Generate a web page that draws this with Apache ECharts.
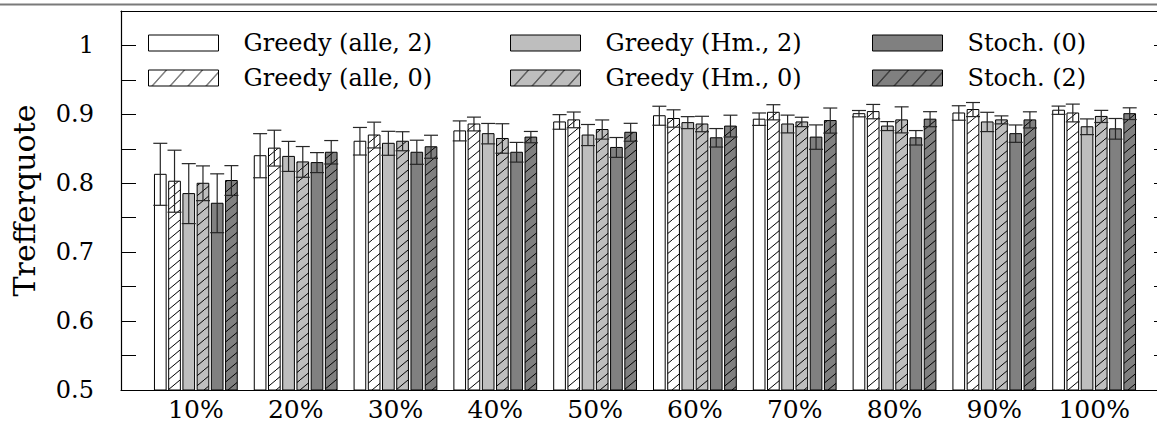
<!DOCTYPE html>
<html>
<head>
<meta charset="utf-8">
<script src="https://cdn.jsdelivr.net/npm/echarts@6/dist/echarts.min.js"></script>
<style>
html,body{margin:0;padding:0;background:#fff;}
#chart{width:1157px;height:426px;}
</style>
</head>
<body>
<div id="chart"></div>
<script>
// ---------- data ----------
const categories = ['10%', '20%', '30%', '40%', '50%', '60%', '70%', '80%', '90%', '100%'];
const seriesNames = ['Greedy (alle, 2)', 'Greedy (alle, 0)', 'Greedy (Hm., 2)', 'Greedy (Hm., 0)', 'Stoch. (0)', 'Stoch. (2)'];

const alle2    = [0.813, 0.840, 0.861, 0.876, 0.889, 0.898, 0.893, 0.901, 0.902, 0.906];
const alle2Err = [0.045, 0.032, 0.020, 0.0145, 0.0106, 0.0138, 0.009, 0.0046, 0.0105, 0.006];

const alle0    = [0.803, 0.851, 0.870, 0.886, 0.892, 0.894, 0.903, 0.904, 0.907, 0.902];
const alle0Err = [0.045, 0.026, 0.0187, 0.010, 0.0114, 0.0126, 0.011, 0.0104, 0.0102, 0.0129];

const hm2      = [0.785, 0.839, 0.858, 0.872, 0.870, 0.888, 0.886, 0.883, 0.889, 0.882];
const hm2Err   = [0.0435, 0.0218, 0.0174, 0.0148, 0.0153, 0.0087, 0.0129, 0.0065, 0.014, 0.0114];

const hm0      = [0.800, 0.831, 0.861, 0.865, 0.878, 0.886, 0.889, 0.892, 0.892, 0.897];
const hm0Err   = [0.0252, 0.0223, 0.0138, 0.0214, 0.0139, 0.0112, 0.0068, 0.0189, 0.0058, 0.0088];

const stoch0    = [0.771, 0.830, 0.845, 0.845, 0.852, 0.866, 0.867, 0.866, 0.872, 0.879];
const stoch0Err = [0.0427, 0.0145, 0.0175, 0.0143, 0.0144, 0.0134, 0.0177, 0.0105, 0.0126, 0.015];

const stoch2    = [0.804, 0.845, 0.853, 0.867, 0.874, 0.883, 0.891, 0.893, 0.892, 0.901];
const stoch2Err = [0.0216, 0.017, 0.0167, 0.0082, 0.013, 0.0158, 0.0182, 0.0109, 0.0117, 0.0085];

const yTickLabels = ['0.5', '0.6', '0.7', '0.8', '0.9', '1'];

// ---------- styling / layout ----------
const FONT = 'DejaVu Serif';
const LIGHT = '#bebebe';
const DARK = '#808080';

function hatch(bg, w, h) {
  const c = document.createElement('canvas');
  c.width = w; c.height = h;
  const g = c.getContext('2d');
  g.fillStyle = bg; g.fillRect(0, 0, w, h);
  g.strokeStyle = '#000'; g.lineWidth = 1;
  g.beginPath();
  g.moveTo(0, h); g.lineTo(w, 0);
  g.moveTo(-w, h); g.lineTo(0, 0);
  g.moveTo(w, h); g.lineTo(2 * w, 0);
  g.stroke();
  return { image: c, repeat: 'repeat' };
}

const fills = [
  '#ffffff',
  hatch('#ffffff', 12, 10),
  LIGHT,
  hatch(LIGHT, 12, 10),
  DARK,
  hatch(DARK, 12, 10)
];
const legendFills = [
  '#ffffff',
  hatch('#ffffff', 18, 20),
  LIGHT,
  hatch(LIGHT, 18, 20),
  DARK,
  hatch(DARK, 18, 20)
];

const values = [alle2, alle0, hm2, hm0, stoch0, stoch2];
const errors = [alle2Err, alle0Err, hm2Err, hm0Err, stoch0Err, stoch2Err];

const BAR_PITCH = 0.1425;   // in category units
const BAR_WIDTH = 0.117;
const CAP_HALF = 7;         // px
const Y_MIN = 0.5, Y_MAX = 1.05;

function makeRender(si) {
  const offset = (si - 2.5) * BAR_PITCH;
  return function (params, api) {
    const xi = api.value(0) + offset;
    const v = api.value(1);
    const e = api.value(2);
    const pTopLeft = api.coord([xi - BAR_WIDTH / 2, v]);
    const pBotRight = api.coord([xi + BAR_WIDTH / 2, Y_MIN]);
    const pc = api.coord([xi, v]);
    const pHi = api.coord([xi, v + e]);
    const pLo = api.coord([xi, v - e]);
    const errStyle = { stroke: '#262626', lineWidth: 1.2 };
    return {
      type: 'group',
      children: [
        {
          type: 'rect',
          shape: { x: pTopLeft[0], y: pTopLeft[1], width: pBotRight[0] - pTopLeft[0], height: pBotRight[1] - pTopLeft[1] },
          style: { fill: fills[si], stroke: '#000', lineWidth: 1 }
        },
        { type: 'line', z2: 10, shape: { x1: pc[0], y1: pHi[1], x2: pc[0], y2: pLo[1] }, style: errStyle },
        { type: 'line', z2: 10, shape: { x1: pc[0] - CAP_HALF, y1: pHi[1], x2: pc[0] + CAP_HALF, y2: pHi[1] }, style: errStyle },
        { type: 'line', z2: 10, shape: { x1: pc[0] - CAP_HALF, y1: pLo[1], x2: pc[0] + CAP_HALF, y2: pLo[1] }, style: errStyle }
      ]
    };
  };
}

const series = seriesNames.map((name, si) => ({
  name: name,
  type: 'custom',
  xAxisIndex: 0,
  yAxisIndex: 0,
  renderItem: makeRender(si),
  itemStyle: { color: legendFills[si], borderColor: '#000', borderWidth: 1 },
  encode: { x: 0, y: 1 },
  data: categories.map((c, i) => [i, values[si][i], errors[si][i]]),
  silent: true,
  animation: false
}));

function legendCol(idxs, left) {
  return {
    orient: 'vertical',
    left: left,
    top: 31,
    padding: 0,
    itemWidth: 70,
    itemHeight: 16,
    itemGap: 11,
    icon: 'rect',
    selectedMode: false,
    textStyle: { fontFamily: FONT, fontSize: 24, color: '#000', lineHeight: 16, padding: [0, 0, 0, 20] },
    data: idxs.map(i => ({
      name: seriesNames[i],
      icon: 'rect',
      itemStyle: { color: legendFills[i], borderColor: '#000', borderWidth: 1 }
    }))
  };
}

const axisLineStyle = { color: '#000', width: 1.2 };

const option = {
  animation: false,
  backgroundColor: '#fff',
  grid: { left: 121, top: 11, width: 1048, height: 379, outerBoundsMode: 'none', containLabel: false },
  legend: [
    legendCol([0, 1], 148),
    legendCol([2, 3], 510),
    legendCol([4, 5], 872)
  ],
  xAxis: [
    {
      type: 'value', position: 'bottom', min: -0.75, max: 9.75,
      axisLine: { show: true, onZero: false, lineStyle: axisLineStyle },
      axisTick: { show: false },
      splitLine: { show: false },
      axisLabel: {
        show: true,
        customValues: categories.map((c, i) => i),
        formatter: v => categories[Math.round(v)],
        fontFamily: FONT, fontSize: 25, color: '#000', margin: 7
      }
    },
    {
      type: 'value', position: 'top', min: -0.75, max: 9.75,
      axisLine: { show: true, onZero: false, lineStyle: axisLineStyle },
      axisTick: { show: false }, axisLabel: { show: false }, splitLine: { show: false }
    }
  ],
  yAxis: [
    {
      type: 'value', position: 'left', min: Y_MIN, max: Y_MAX, interval: 0.05,
      name: 'Trefferquote', nameLocation: 'middle', nameGap: 82, nameRotate: 90,
      nameTextStyle: { fontFamily: FONT, fontSize: 30, color: '#000' },
      axisLine: { show: true, onZero: false, lineStyle: axisLineStyle },
      axisTick: { show: true, inside: true, length: 15, lineStyle: { color: '#000', width: 1 } },
      splitLine: { show: false },
      axisLabel: {
        fontFamily: FONT, fontSize: 24, color: '#000', margin: 27,
        formatter: function (v) {
          const k = Math.round((v - Y_MIN) * 20);
          if (k % 2 !== 0) return '';
          return yTickLabels[k / 2] || '';
        }
      }
    },
    {
      type: 'value', position: 'right', min: Y_MIN, max: Y_MAX, interval: 0.05,
      axisLine: { show: true, onZero: false, lineStyle: axisLineStyle },
      axisTick: { show: true, inside: true, length: 15, lineStyle: { color: '#000', width: 1 } },
      splitLine: { show: false },
      axisLabel: { show: false }
    }
  ],
  graphic: [
    {
      type: 'line', silent: true,
      shape: { x1: 0, y1: 4.5, x2: 1157, y2: 4.5 },
      style: { stroke: '#7a7a7a', lineWidth: 2 }
    }
  ],
  series: series
};

const chart = echarts.init(document.getElementById('chart'), null, { renderer: 'svg' });
chart.setOption(option);
</script>
</body>
</html>
